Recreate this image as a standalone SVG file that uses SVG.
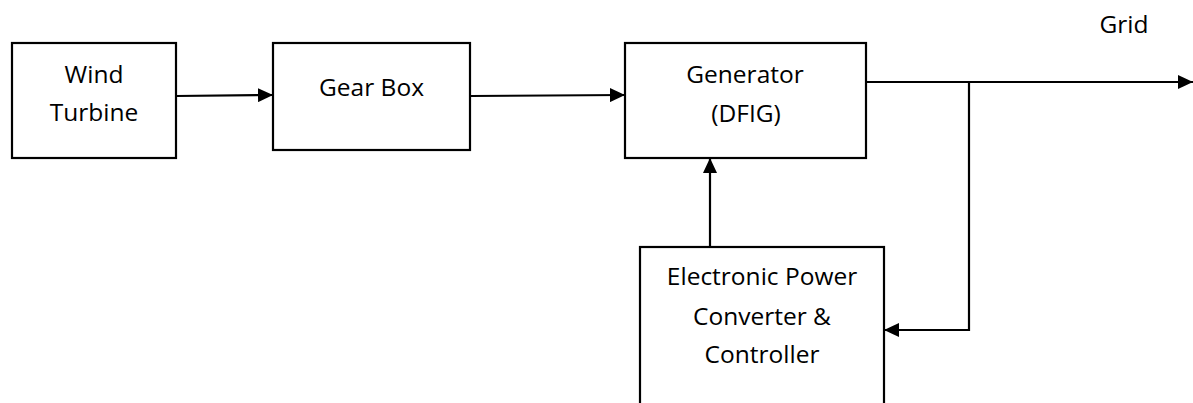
<svg xmlns="http://www.w3.org/2000/svg" width="1193" height="403" viewBox="0 0 1193 403">
  <style>
    .box { fill: #ffffff; stroke: #000000; stroke-width: 2.2; }
    .wire { fill: none; stroke: #000000; stroke-width: 2.2; }
    .label { font-family: "Open Sans", "Liberation Sans", sans-serif; font-size: 24.5px; fill: #000000; text-anchor: middle; }
  </style>
  <defs>
    <marker id="arrow" markerWidth="15" markerHeight="14" refX="15" refY="7" orient="auto" markerUnits="userSpaceOnUse">
      <path d="M0,0 L15,7 L0,14 Z" fill="#000000"/>
    </marker>
  </defs>
  <rect width="1193" height="403" fill="#ffffff"/>

  <g id="connectors">
    <line class="wire" x1="176" y1="96" x2="273" y2="95" marker-end="url(#arrow)"/>
    <line class="wire" x1="471" y1="96" x2="625" y2="95" marker-end="url(#arrow)"/>
    <line class="wire" x1="866" y1="82" x2="1193" y2="82" marker-end="url(#arrow)"/>
    <polyline class="wire" points="969,82 969,330 884,330" marker-end="url(#arrow)"/>
    <line class="wire" x1="710" y1="247" x2="710" y2="158" marker-end="url(#arrow)"/>
  </g>

  <g id="wind-turbine">
    <rect class="box" x="12" y="43" width="164" height="115"/>
    <text class="label" x="94" y="83">Wind</text>
    <text class="label" x="94" y="121">Turbine</text>
  </g>

  <g id="gear-box">
    <rect class="box" x="273" y="43" width="197" height="107"/>
    <text class="label" x="371.5" y="96">Gear Box</text>
  </g>

  <g id="generator">
    <rect class="box" x="625" y="43" width="241" height="115"/>
    <text class="label" x="745" y="83">Generator</text>
    <text class="label" x="746" y="122">(DFIG)</text>
  </g>

  <g id="converter">
    <rect class="box" x="640" y="247" width="244" height="170"/>
    <text class="label" x="762" y="285">Electronic Power</text>
    <text class="label" x="762" y="325">Converter &amp;</text>
    <text class="label" x="762" y="363">Controller</text>
  </g>

  <g id="grid-label">
    <text class="label" x="1124" y="33">Grid</text>
  </g>
</svg>
